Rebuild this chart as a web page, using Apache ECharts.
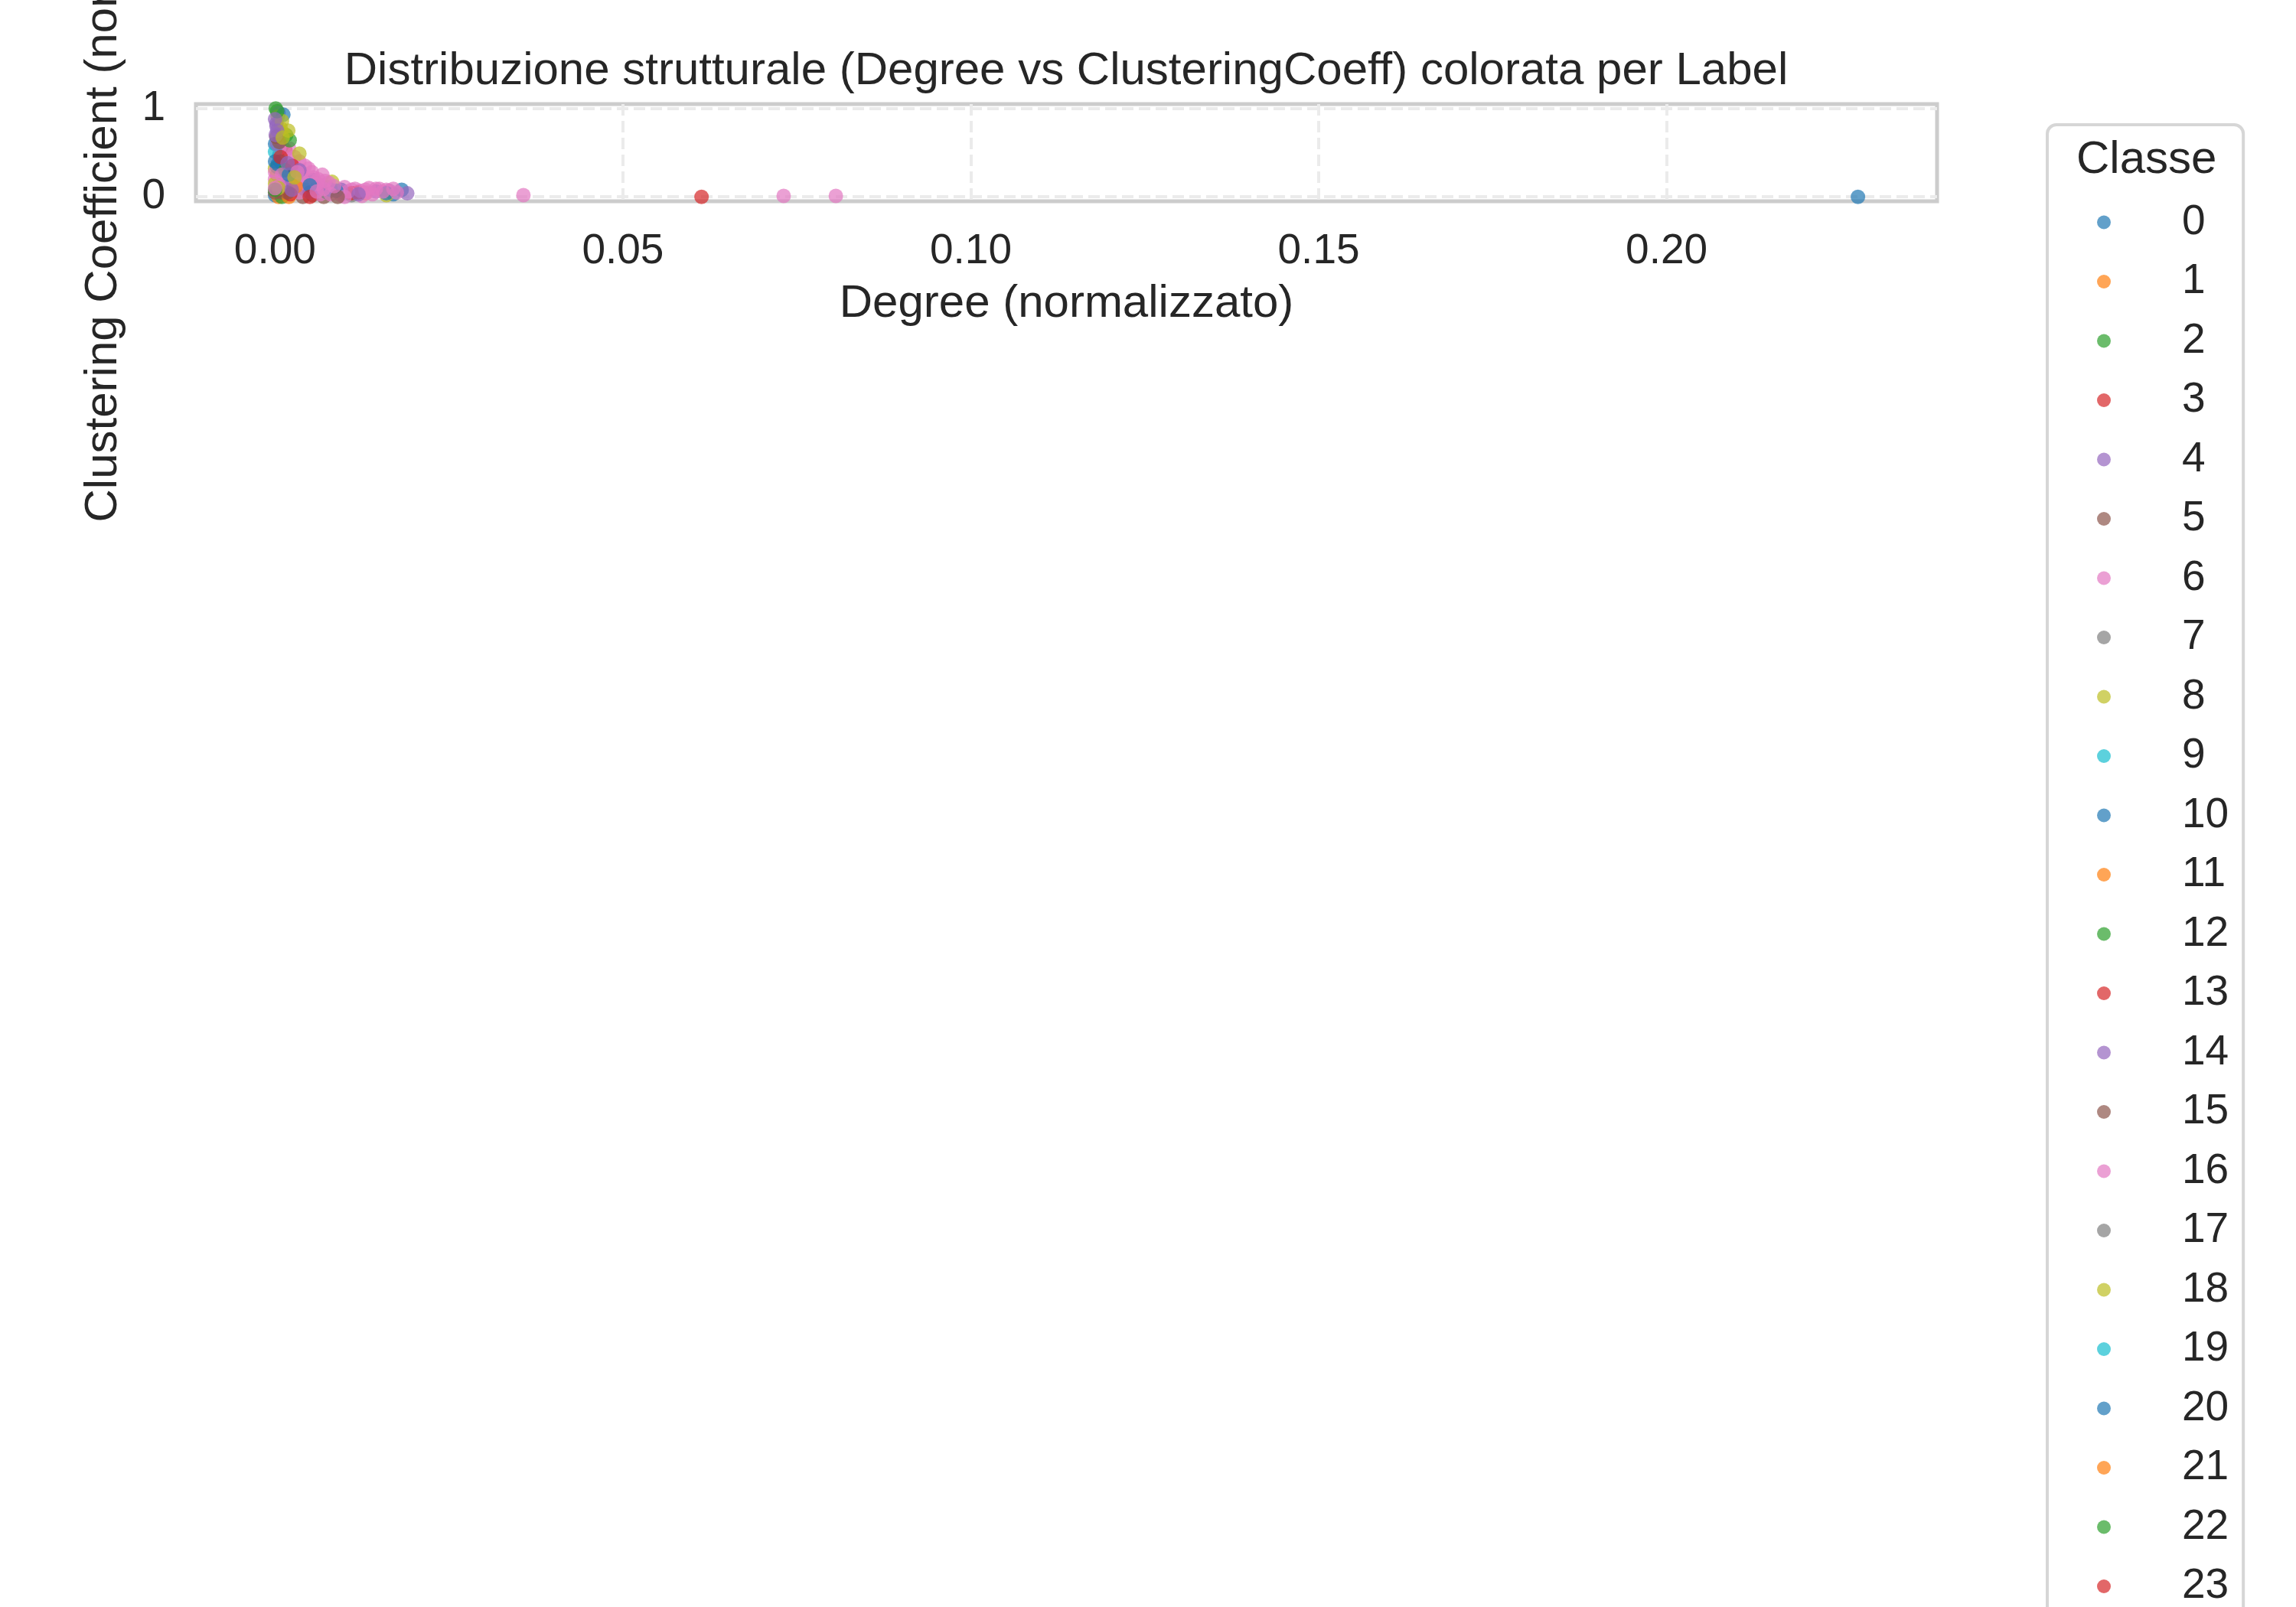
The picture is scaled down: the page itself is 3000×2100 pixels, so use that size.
<!DOCTYPE html>
<html>
<head>
<meta charset="utf-8">
<script src="https://cdn.jsdelivr.net/npm/echarts@6/dist/echarts.min.js"></script>
<style>
html, body { margin: 0; padding: 0; background: #ffffff; }
#chart { width: 3000px; height: 2100px; }
</style>
</head>
<body>
<div id="chart"></div>
<script>
// ---- Data ----
const label = [
  2, 22, 8, 10, 14, 18, 8, 28, 4, 24,
  15, 12, 38, 2, 3, 9, 6, 18, 0, 16,
  20, 12, 8, 26, 36, 30, 34, 6, 16, 14,
  10, 26, 18, 36, 20, 6, 13, 16, 1, 26,
  6, 16, 4, 36, 0, 24, 5, 3, 0, 6,
  34, 16, 10, 26, 6, 16, 36, 26, 6, 16,
  7, 17, 1, 11, 21, 6, 20, 14, 8, 28,
  38, 2, 32, 22, 3, 23, 33, 5, 25, 35,
  15, 4, 24, 14, 34, 0, 20, 30, 10, 0,
  20, 6, 16, 26, 36, 6, 16, 26, 36, 6,
  16, 6, 13, 16, 26, 20,
  24, 4, 8, 34, 15, 2, 23, 8, 16, 10,
  6, 26, 14, 36, 5, 16, 6, 24, 26, 36,
  20, 16, 6, 13, 26, 14, 18, 36, 6, 4,
  0, 23, 16, 26, 6, 34, 16, 15, 26, 6,
  16, 10
];
const degree = [
  0.0001, 0.0003, 0.0004, 0.0012, 0.0002, 0.0010, 0.0008, 0.0019, 0.0002, 0.0001,
  0.0002, 0.0021, 0.0011, 0.0016, 0.0015, 0.0000, 0.0006, 0.0035, 0.0006, 0.0020,
  0.0004, 0.0003, 0.0000, 0.0043, 0.0032, 0.0020, 0.0035, 0.0053, 0.0068, 0.0055,
  0.0065, 0.0077, 0.0082, 0.0070, 0.0088, 0.0100, 0.0110, 0.0122, 0.0130, 0.0132,
  0.0150, 0.0140, 0.0164, 0.0170, 0.0182, 0.0190, 0.0054, 0.0004, 0.0000, 0.0013,
  0.0024, 0.0035, 0.0044, 0.0010, 0.0025, 0.0045, 0.0060, 0.0080, 0.0095, 0.0105,
  0.0110, 0.0075, 0.0005, 0.0020, 0.0030, 0.0008, 0.0000, 0.0003, 0.0000, 0.0005,
  0.0028, 0.0010, 0.0000, 0.0015, 0.0003, 0.0025, 0.0050, 0.0000, 0.0018, 0.0090,
  0.0040, 0.0040, 0.0060, 0.0095, 0.0120, 0.0000, 0.0008, 0.0050, 0.0075, 0.0100,
  0.0160, 0.0035, 0.0048, 0.0062, 0.0085, 0.0115, 0.0135, 0.0155, 0.0175, 0.0020,
  0.0028, 0.0357, 0.0613, 0.0731, 0.0806, 0.2275,
  0.0000, 0.0005, 0.0012, 0.0003, 0.0006, 0.0010, 0.0008, 0.0014, 0.0000, 0.0012,
  0.0000, 0.0006, 0.0015, 0.0000, 0.0010, 0.0030, 0.0040, 0.0050, 0.0060, 0.0072,
  0.0080, 0.0090, 0.0110, 0.0120, 0.0130, 0.0145, 0.0160, 0.0145, 0.0025, 0.0030,
  0.0015, 0.0022, 0.0055, 0.0038, 0.0028, 0.0018, 0.0065, 0.0070, 0.0100, 0.0125,
  0.0160, 0.0170
];
const clustering = [
  1.00, 0.97, 0.91, 0.93, 0.83, 0.86, 0.78, 0.75, 0.80, 0.70,
  0.68, 0.64, 0.67, 0.70, 0.53, 0.51, 0.55, 0.49, 0.47, 0.42,
  0.37, 0.34, 0.32, 0.35, 0.28, 0.25, 0.30, 0.28, 0.25, 0.19,
  0.13, 0.16, 0.17, 0.09, 0.07, 0.11, 0.04, 0.07, 0.04, 0.05,
  0.09, 0.03, 0.07, 0.09, 0.08, 0.04, 0.02, 0.08, 0.02, 0.17,
  0.08, 0.05, 0.08, 0.25, 0.18, 0.15, 0.06, 0.03, 0.02, 0.06,
  0.02, 0.05, 0.00, 0.00, 0.12, 0.20, 0.40, 0.60, 0.15, 0.10,
  0.22, 0.00, 0.08, 0.30, 0.25, 0.35, 0.00, 0.05, 0.05, 0.00,
  0.00, 0.20, 0.10, 0.08, 0.03, 0.60, 0.40, 0.13, 0.11, 0.04,
  0.04, 0.40, 0.32, 0.20, 0.12, 0.09, 0.10, 0.06, 0.05, 0.55,
  0.45, 0.02, 0.00, 0.01, 0.01, 0.00,
  0.88, 0.95, 0.72, 0.75, 0.62, 0.58, 0.45, 0.40, 0.28, 0.30,
  0.20, 0.12, 0.12, 0.10, 0.05, 0.15, 0.10, 0.05, 0.15, 0.18,
  0.08, 0.06, 0.08, 0.05, 0.08, 0.06, 0.02, 0.09, 0.30, 0.22,
  0.12, 0.03, 0.22, 0.25, 0.35, 0.38, 0.03, 0.00, 0.00, 0.01,
  0.08, 0.03
];
const classes = [
  '0','1','2','3','4','5','6','7','8','9',
  '10','11','12','13','14','15','16','17','18','19',
  '20','21','22','23','24','25','26','27','28','29',
  '30','31','32','33','34','35','36','37','38','39'
];
const xTickValues = [0, 0.05, 0.10, 0.15, 0.20];
const yTickValues = [0, 1];

// ---- Style ----
const tab10 = ['#1f77b4','#ff7f0e','#2ca02c','#d62728','#9467bd',
               '#8c564b','#e377c2','#7f7f7f','#bcbd22','#17becf'];
const TXT = '#262626';
const FONT = '"Liberation Sans", Arial, sans-serif';

const series = classes.map(function (name, ci) {
  const pts = [];
  for (let i = 0; i < label.length; i++) {
    if (label[i] === ci) pts.push([degree[i], clustering[i]]);
  }
  return {
    name: name,
    type: 'scatter',
    data: pts,
    symbol: 'circle',
    symbolSize: 19,
    itemStyle: { color: tab10[ci % 10], opacity: 0.7, borderWidth: 0 },
    emphasis: { disabled: true },
    z: 2
  };
});

const chart = echarts.init(document.getElementById('chart'), null, { renderer: 'canvas' });
chart.setOption({
  animation: false,
  backgroundColor: '#ffffff',
  textStyle: { fontFamily: FONT, color: TXT },
  title: {
    text: 'Distribuzione strutturale (Degree vs ClusteringCoeff) colorata per Label',
    left: 1388,
    top: 58,
    textAlign: 'center',
    textStyle: { fontFamily: FONT, fontSize: 60, fontWeight: 'normal', color: TXT, lineHeight: 60 }
  },
  grid: {
    left: 256, right: 469, top: 136, bottom: 1837,
    containLabel: false,
    outerBoundsMode: 'none',
    show: true, borderColor: '#cccccc', borderWidth: 5, backgroundColor: '#ffffff'
  },
  xAxis: {
    type: 'value',
    min: -0.01137,
    max: 0.23887,
    name: 'Degree (normalizzato)',
    nameLocation: 'middle',
    nameGap: 104,
    nameTextStyle: { fontFamily: FONT, fontSize: 60, color: TXT, lineHeight: 60 },
    axisLine: { show: false },
    axisTick: { show: false, customValues: xTickValues },
    axisLabel: {
      customValues: xTickValues,
      formatter: function (v) { return v.toFixed(2); },
      fontFamily: FONT, fontSize: 55, color: TXT, margin: 38, lineHeight: 55,
      hideOverlap: false
    },
    splitLine: { show: true, lineStyle: { color: '#ebebeb', width: 4, type: [15, 7] } }
  },
  yAxis: {
    type: 'value',
    min: -0.05,
    max: 1.05,
    name: 'Clustering Coefficient (normalizzato)',
    nameLocation: 'middle',
    nameGap: 91,
    nameTextStyle: { fontFamily: FONT, fontSize: 60, color: TXT, lineHeight: 60 },
    axisLine: { show: false },
    axisTick: { show: false, customValues: yTickValues },
    axisLabel: {
      customValues: yTickValues,
      formatter: function (v) { return String(Math.round(v)); },
      fontFamily: FONT, fontSize: 55, color: TXT, margin: 40, lineHeight: 55,
      padding: [6, 0, 0, 0],
      hideOverlap: false
    },
    splitLine: { show: true, lineStyle: { color: '#ebebeb', width: 4, type: [15, 7] } }
  },
  legend: {
    orient: 'vertical',
    left: 2675,
    top: 163,
    height: 6000,
    padding: [100, 19, 20, 65],
    itemWidth: 18,
    itemHeight: 18,
    itemGap: 22.5,
    selectedMode: false,
    icon: 'circle',
    backgroundColor: '#ffffff',
    borderColor: '#d6d6d6',
    borderWidth: 4,
    borderRadius: 12,
    textStyle: { fontFamily: FONT, fontSize: 55, color: TXT, lineHeight: 55, padding: [0, 0, 0, 88], width: 61 },
    data: classes
  },
  graphic: [{
    type: 'text',
    left: 2803 - 90,
    top: 179,
    z: 100,
    style: { text: 'Classe', x: 0, y: 0, fontFamily: FONT, fontSize: 60, fill: TXT, textAlign: 'left' }
  }],
  series: series
});
</script>
</body>
</html>
